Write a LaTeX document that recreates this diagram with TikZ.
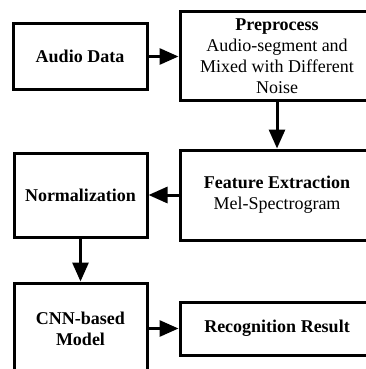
\documentclass[tikz,border=0pt]{standalone}
\usepackage{fontspec}
\setmainfont{Liberation Serif}
\usetikzlibrary{arrows.meta}
\begin{document}
\begin{tikzpicture}[x=1pt,y=-1pt,
  box/.style={draw, line width=3pt, inner sep=0pt, align=center,
    font=\fontsize{18}{21}\selectfont, fill=white},
  arr/.style={line width=3pt, -{Triangle[length=19pt,width=16pt]}}]
\useasboundingbox (0,0) rectangle (366,369);
\clip (0,0) rectangle (366,369);
\node[box, minimum width=134pt, minimum height=65pt] (a) at (80,56.5) {\textbf{Audio Data}};
\node[box, minimum width=194pt, minimum height=88pt] (p) at (277,56) {\textbf{Preprocess}\\Audio-segment and\\Mixed with Different\\Noise};
\node[box, minimum width=194pt, minimum height=90pt] (f) at (277,195) {\textbf{Feature Extraction}\\Mel-Spectrogram};
\node[box, minimum width=133pt, minimum height=84pt] (n) at (80.5,195) {\textbf{Normalization}};
\node[box, minimum width=133pt, minimum height=92pt] (c) at (80.5,329) {\textbf{CNN-based}\\\textbf{Model}};
\node[box, minimum width=194pt, minimum height=53pt] (r) at (277,328.5) {\textbf{Recognition Result}};
\draw[arr] (a.east) -- (p.west |- a.east);
\draw[arr] (p.south) -- (f.north);
\draw[arr] (f.west) -- (n.east);
\draw[arr] (n.south) -- (c.north);
\draw[arr] (c.east |- r.west) -- (r.west);
\end{tikzpicture}
\end{document}
